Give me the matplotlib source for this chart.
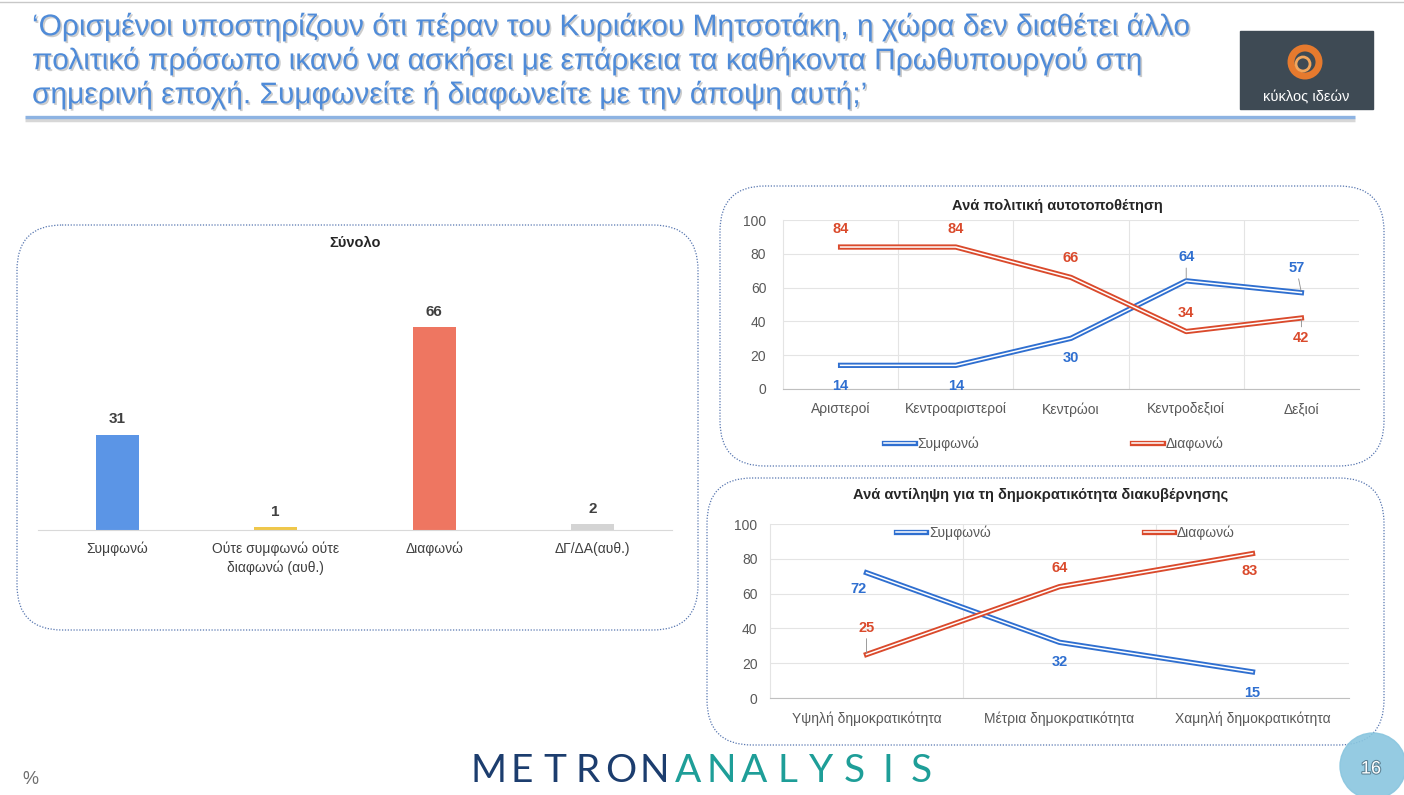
import matplotlib
matplotlib.use('Agg')
import matplotlib.pyplot as plt
import matplotlib.patheffects as pe
from matplotlib.patches import FancyBboxPatch, Circle, Rectangle
from matplotlib import font_manager
import numpy as np

# ---- data ----
title_lines = [
    '‘Ορισμένοι υποστηρίζουν ότι πέραν του Κυριάκου Μητσοτάκη, η χώρα δεν διαθέτει άλλο',
    'πολιτικό πρόσωπο ικανό να ασκήσει με επάρκεια τα καθήκοντα Πρωθυπουργού στη',
    'σημερινή εποχή. Συμφωνείτε ή διαφωνείτε με την άποψη αυτή;’',
]

total_labels = ['Συμφωνώ', 'Ούτε συμφωνώ ούτε\nδιαφωνώ (αυθ.)', 'Διαφωνώ', 'ΔΓ/ΔΑ(αυθ.)']
total_values = [31, 1, 66, 2]

ideology_labels = ['Αριστεροί', 'Κεντροαριστεροί', 'Κεντρώοι', 'Κεντροδεξιοί', 'Δεξιοί']
ideology_agree = [14, 14, 30, 64, 57]
ideology_disagree = [84, 84, 66, 34, 42]

demo_labels = ['Υψηλή δημοκρατικότητα', 'Μέτρια δημοκρατικότητα', 'Χαμηλή δημοκρατικότητα']
demo_agree = [72, 32, 15]
demo_disagree = [25, 64, 83]

series_names = ['Συμφωνώ', 'Διαφωνώ']

# ---- style ----
W, H = 1404, 795
BLUE = '#2F6FD0'
RED = '#DA4A2C'
BAR_COLORS = ['#5B95E6', '#EFC74A', '#EE7661', '#D4D4D4']
TXT = '#595959'

names = {f.name for f in font_manager.fontManager.ttflist}
base = 'Liberation Sans' if 'Liberation Sans' in names else 'DejaVu Sans'
plt.rcParams['font.family'] = [base, 'DejaVu Sans']


def rect(x0, y0, x1, y1):
    # pixel box (top-left origin) -> figure fraction
    return [x0 / W, 1 - y1 / H, (x1 - x0) / W, (y1 - y0) / H]


def px(v):
    return v * 0.72


fig = plt.figure(figsize=(W / 100, H / 100), dpi=100)
bg = fig.add_axes([0, 0, 1, 1])
bg.set_xlim(0, W)
bg.set_ylim(H, 0)
bg.axis('off')

bg.plot([0, W], [2, 2], color='#C8C8C8', lw=1)

# title
renderer = fig.canvas.get_renderer()
shadow = [pe.SimplePatchShadow(offset=(1.2, -1.2), shadow_rgbFace='#9A9A9A', alpha=0.5), pe.Normal()]
t = bg.text(32, 27, title_lines[0], fontsize=19, color='#4F8BD8', va='center', ha='left')
w = t.get_window_extent(renderer).width
size = 19 * 1158 / w
t.set_fontsize(size)
t.set_path_effects(shadow)
for i, line in enumerate(title_lines[1:]):
    bg.text(32, 61 + 34 * i, line, fontsize=size, color='#4F8BD8', va='center', ha='left',
            path_effects=shadow)

bg.plot([25, 1355], [119.5, 119.5], color='#BDBDBD', lw=2.5, alpha=0.6, solid_capstyle='butt')
bg.plot([25, 1355], [117, 117], color='#8DB3E2', lw=2.4, solid_capstyle='butt')

# logo
bg.add_patch(Rectangle((1240, 31), 133, 78, color='#3E4A54'))
bg.add_patch(Circle((1305, 62), 14, fill=False, ec='#E67A2E', lw=5))
bg.add_patch(Circle((1303, 64), 7, fill=False, ec='#F3A65C', lw=2))
bg.text(1306, 97, 'κύκλος ιδεών', color='white', fontsize=10.5, ha='center', va='center')


def round_box(x0, y0, x1, y1):
    bg.add_patch(FancyBboxPatch((x0, y0), x1 - x0, y1 - y0,
                                boxstyle='round,pad=0,rounding_size=45',
                                fill=False, ec='#5776B0', lw=0.9, ls=(0, (1, 1.3))))


round_box(17, 225, 698, 630)
round_box(720, 186, 1384, 466)
round_box(707, 478, 1384, 745)

# ---- left: total bars ----
ax1 = fig.add_axes(rect(38, 260, 672, 530))
ax1.patch.set_visible(False)
bars = ax1.bar(range(len(total_values)), total_values, width=0.27, color=BAR_COLORS)
ax1.set_xlim(-0.5, 3.5)
ax1.set_ylim(0, 87.8)
ax1.set_yticks([])
ax1.set_xticks(range(len(total_labels)))
ax1.set_xticklabels(total_labels, fontsize=10, color='#404040')
for lab in ax1.get_xticklabels():
    lab.set_linespacing(1.4)
ax1.tick_params(axis='x', length=0, pad=8.5)
for s in ['top', 'left', 'right']:
    ax1.spines[s].set_visible(False)
ax1.spines['bottom'].set_color('#D9D9D9')
ax1.bar_label(bars, padding=6, fontsize=11, fontweight='bold', color='#404040')
bg.text(355, 243, 'Σύνολο', fontsize=10.5, fontweight='bold', color='#262626', ha='center', va='center')


def double_line(ax, y, color, label):
    ax.plot(range(len(y)), y, color=color, lw=3.8, label=label,
            path_effects=[pe.Stroke(linewidth=3.8, foreground=color),
                          pe.Stroke(linewidth=1.1, foreground='white')])


def style_line_axes(ax, labels, ypad, xpad):
    ax.patch.set_visible(False)
    ax.set_ylim(0, 100)
    ax.set_xlim(-0.5, len(labels) - 0.5)
    ax.set_yticks(np.arange(0, 101, 20))
    ax.set_xticks(range(len(labels)))
    ax.set_xticklabels(labels)
    ax.set_xticks(np.arange(0.5, len(labels) - 0.5, 1), minor=True)
    ax.tick_params(axis='both', which='both', length=0, labelsize=10, labelcolor=TXT)
    ax.tick_params(axis='y', pad=ypad)
    ax.tick_params(axis='x', pad=xpad)
    ax.grid(axis='y', color='#E4E4E4', lw=0.8)
    ax.grid(axis='x', which='minor', color='#E4E4E4', lw=0.8)
    ax.set_axisbelow(True)
    ax.spines['top'].set_visible(False)
    ax.spines['right'].set_visible(False)
    ax.spines['left'].set_color('#E4E4E4')
    ax.spines['bottom'].set_color('#BFBFBF')


def put_labels(ax, values, offsets, color, leaders):
    for i, v in enumerate(values):
        dx, dy = offsets[i]
        arrow = None
        if leaders[i]:
            arrow = dict(arrowstyle='-', color='#8C8C8C', lw=0.6, shrinkA=1, shrinkB=1)
        ax.annotate(str(v), (i, v), xytext=(px(dx), px(dy)), textcoords='offset points',
                    ha='center', va='center', color=color, fontsize=10.5,
                    fontweight='bold', arrowprops=arrow)


# ---- top right: ideology ----
ax2 = fig.add_axes(rect(783, 220, 1359, 389))
style_line_axes(ax2, ideology_labels, 12, 9.5)
double_line(ax2, ideology_agree, BLUE, series_names[0])
double_line(ax2, ideology_disagree, RED, series_names[1])
put_labels(ax2, ideology_agree, [(0, -21), (0, -21), (0, -20), (0, 24), (-5, 25)], BLUE,
           [False, False, False, True, True])
put_labels(ax2, ideology_disagree, [(0, 18), (0, 18), (0, 19), (0, 19), (0, -20)], RED,
           [False, False, False, False, True])
ax2.legend(loc='center', bbox_to_anchor=(0.47, -0.325), ncol=2, frameon=False,
           fontsize=10, handlelength=2.2, columnspacing=11, labelcolor=TXT, handletextpad=0.2)
bg.text(1057, 206, 'Ανά πολιτική αυτοτοποθέτηση', fontsize=10.5, fontweight='bold',
        color='#262626', ha='center', va='center')

# ---- bottom right: democracy perception ----
ax3 = fig.add_axes(rect(770, 524, 1349, 698))
style_line_axes(ax3, demo_labels, 9, 9.5)
double_line(ax3, demo_agree, BLUE, series_names[0])
double_line(ax3, demo_disagree, RED, series_names[1])
put_labels(ax3, demo_agree, [(-8, -16), (0, -20), (0, -21)], BLUE, [False, False, False])
put_labels(ax3, demo_disagree, [(0, 27), (0, 19), (-3, -17)], RED, [True, False, False])
ax3.legend(loc='center', bbox_to_anchor=(0.51, 0.948), ncol=2, frameon=False,
           fontsize=10, handlelength=2.2, columnspacing=11, labelcolor=TXT, handletextpad=0.2)
bg.text(1041, 495, 'Ανά αντίληψη για τη δημοκρατικότητα διακυβέρνησης', fontsize=10.5,
        fontweight='bold', color='#262626', ha='center', va='center')

# ---- footer ----
brand = 'METRONANALYSIS'
for i, ch in enumerate(brand):
    bg.text(488 + i * 33.3, 771, ch, fontsize=28, color='#1C3D6E' if i < 6 else '#1E9E98',
            ha='center', va='center', family=['Lato', 'DejaVu Sans'], fontweight='normal')

bg.text(30, 779, '%', fontsize=13, color='#6E6E6E', ha='center', va='center')
bg.add_patch(Circle((1373, 766), 33, color='#8AC6DF', alpha=0.9))
bg.text(1371, 769, '16', fontsize=13, color='white', ha='center', va='center',
        path_effects=[pe.withStroke(linewidth=1.5, foreground='#5A7F92')])

fig.savefig('out.png', dpi=100)
